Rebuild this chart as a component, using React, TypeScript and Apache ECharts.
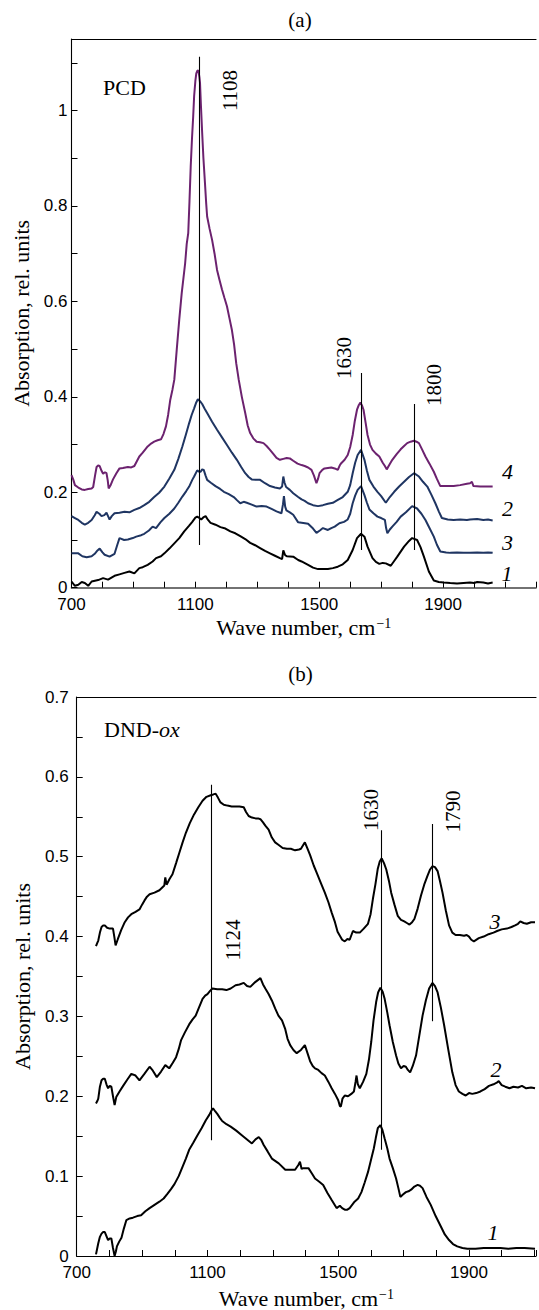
import React, { useEffect, useRef } from "react";
import * as echarts from "echarts";

// ---------- DATA ----------
// Panel (a): PCD, [wave number, absorption]
const pcd1: [number, number][] = [[700,0.013],[711,0.004],[722,0.006],[733,0.012],[743,0.010],[754,0.004],[765,0.013],[786,0.016],[802,0.020],[818,0.017],[839,0.025],[855,0.028],[871,0.031],[887,0.034],[903,0.030],[919,0.041],[930,0.043],[946,0.048],[962,0.055],[973,0.062],[989,0.066],[1000,0.072],[1016,0.082],[1032,0.093],[1048,0.104],[1064,0.118],[1080,0.130],[1090,0.138],[1100,0.147],[1106,0.149],[1113,0.146],[1119,0.143],[1127,0.148],[1133,0.150],[1141,0.142],[1149,0.136],[1165,0.132],[1181,0.127],[1197,0.124],[1213,0.118],[1229,0.114],[1245,0.108],[1261,0.102],[1277,0.094],[1293,0.089],[1309,0.083],[1325,0.077],[1341,0.072],[1357,0.067],[1373,0.062],[1380,0.060],[1384,0.078],[1390,0.068],[1395,0.066],[1416,0.065],[1432,0.058],[1443,0.055],[1464,0.048],[1480,0.042],[1496,0.039],[1512,0.039],[1528,0.039],[1544,0.041],[1560,0.044],[1576,0.049],[1592,0.058],[1608,0.079],[1622,0.104],[1635,0.113],[1646,0.107],[1656,0.086],[1672,0.062],[1683,0.054],[1694,0.050],[1705,0.052],[1715,0.051],[1731,0.046],[1742,0.056],[1752,0.065],[1774,0.086],[1790,0.098],[1800,0.104],[1816,0.100],[1827,0.085],[1838,0.065],[1854,0.034],[1870,0.015],[1886,0.012],[1902,0.011],[1923,0.010],[1945,0.009],[1966,0.010],[1987,0.011],[2000,0.010],[2010,0.012],[2030,0.011],[2045,0.009],[2060,0.011]];
const pcd3: [number, number][] = [[700,0.072],[722,0.072],[735,0.066],[749,0.064],[765,0.066],[775,0.071],[784,0.078],[791,0.082],[800,0.074],[807,0.069],[823,0.065],[839,0.071],[848,0.090],[855,0.104],[870,0.100],[882,0.101],[898,0.104],[909,0.107],[925,0.110],[935,0.113],[950,0.120],[962,0.128],[973,0.125],[987,0.137],[1000,0.146],[1016,0.155],[1032,0.166],[1045,0.178],[1058,0.191],[1070,0.202],[1080,0.212],[1090,0.226],[1096,0.233],[1106,0.246],[1112,0.243],[1117,0.243],[1122,0.248],[1127,0.247],[1133,0.235],[1138,0.226],[1150,0.220],[1165,0.213],[1180,0.207],[1192,0.201],[1208,0.196],[1224,0.190],[1235,0.183],[1245,0.177],[1256,0.180],[1266,0.178],[1282,0.174],[1298,0.170],[1314,0.171],[1330,0.170],[1346,0.165],[1362,0.160],[1378,0.156],[1383,0.175],[1386,0.192],[1390,0.170],[1394,0.162],[1405,0.158],[1416,0.153],[1432,0.137],[1443,0.136],[1454,0.135],[1464,0.134],[1480,0.124],[1491,0.115],[1502,0.120],[1512,0.125],[1528,0.121],[1539,0.125],[1550,0.128],[1565,0.135],[1580,0.138],[1592,0.143],[1600,0.155],[1608,0.177],[1616,0.193],[1624,0.205],[1635,0.213],[1646,0.194],[1654,0.178],[1662,0.164],[1675,0.156],[1688,0.149],[1700,0.146],[1712,0.142],[1716,0.125],[1720,0.114],[1728,0.122],[1736,0.128],[1750,0.138],[1763,0.149],[1780,0.158],[1800,0.171],[1816,0.166],[1830,0.155],[1843,0.142],[1856,0.125],[1870,0.107],[1880,0.090],[1891,0.076],[1910,0.074],[1923,0.073],[1945,0.074],[1966,0.073],[1987,0.073],[2010,0.074],[2030,0.073],[2045,0.074],[2060,0.073]];
const pcd2: [number, number][] = [[700,0.150],[711,0.146],[722,0.142],[733,0.136],[743,0.132],[754,0.136],[765,0.142],[775,0.152],[781,0.159],[790,0.155],[797,0.150],[806,0.152],[813,0.157],[818,0.150],[823,0.143],[830,0.150],[839,0.156],[855,0.157],[871,0.159],[887,0.158],[903,0.163],[919,0.167],[935,0.173],[951,0.180],[967,0.190],[983,0.199],[1000,0.212],[1016,0.229],[1032,0.247],[1045,0.270],[1058,0.296],[1069,0.320],[1080,0.345],[1088,0.362],[1096,0.376],[1102,0.387],[1108,0.395],[1115,0.391],[1122,0.385],[1130,0.375],[1138,0.366],[1154,0.348],[1170,0.331],[1186,0.315],[1202,0.299],[1218,0.283],[1234,0.268],[1248,0.253],[1261,0.240],[1272,0.232],[1282,0.227],[1296,0.226],[1309,0.226],[1325,0.219],[1341,0.213],[1357,0.210],[1373,0.208],[1380,0.212],[1384,0.233],[1388,0.220],[1393,0.211],[1405,0.205],[1416,0.198],[1432,0.190],[1443,0.185],[1453,0.182],[1464,0.177],[1480,0.173],[1496,0.171],[1512,0.173],[1528,0.176],[1544,0.178],[1560,0.184],[1576,0.190],[1592,0.201],[1600,0.215],[1608,0.240],[1616,0.262],[1624,0.278],[1635,0.289],[1646,0.268],[1654,0.245],[1662,0.226],[1675,0.212],[1688,0.201],[1700,0.192],[1715,0.178],[1728,0.190],[1742,0.201],[1758,0.212],[1774,0.222],[1790,0.232],[1806,0.240],[1822,0.233],[1835,0.222],[1849,0.212],[1862,0.195],[1875,0.177],[1886,0.160],[1896,0.146],[1915,0.143],[1934,0.142],[1955,0.143],[1977,0.142],[1987,0.143],[2010,0.144],[2030,0.142],[2045,0.143],[2060,0.141]];
const pcd4: [number, number][] = [[700,0.236],[706,0.226],[711,0.215],[722,0.210],[733,0.206],[743,0.205],[754,0.207],[765,0.208],[770,0.211],[776,0.235],[781,0.253],[786,0.256],[791,0.255],[797,0.245],[802,0.239],[808,0.242],[813,0.240],[817,0.225],[820,0.208],[827,0.216],[834,0.227],[845,0.240],[855,0.250],[866,0.251],[882,0.253],[893,0.252],[903,0.255],[911,0.265],[919,0.275],[930,0.283],[946,0.296],[957,0.302],[967,0.306],[978,0.309],[989,0.311],[997,0.322],[1005,0.338],[1012,0.362],[1019,0.394],[1026,0.415],[1032,0.436],[1040,0.500],[1048,0.562],[1056,0.618],[1067,0.680],[1072,0.720],[1077,0.743],[1081,0.810],[1085,0.883],[1089,0.940],[1093,0.988],[1096,1.030],[1100,1.062],[1103,1.078],[1107,1.084],[1110,1.083],[1113,1.070],[1115,1.058],[1118,1.010],[1122,0.953],[1126,0.900],[1131,0.848],[1135,0.805],[1138,0.778],[1146,0.752],[1154,0.729],[1162,0.700],[1170,0.666],[1178,0.645],[1186,0.625],[1194,0.607],[1202,0.590],[1210,0.565],[1218,0.540],[1225,0.510],[1232,0.470],[1240,0.436],[1250,0.400],[1261,0.366],[1269,0.340],[1277,0.324],[1287,0.313],[1298,0.306],[1309,0.305],[1320,0.303],[1330,0.297],[1341,0.289],[1351,0.281],[1362,0.272],[1373,0.268],[1384,0.270],[1395,0.272],[1405,0.271],[1416,0.266],[1430,0.260],[1443,0.257],[1453,0.255],[1464,0.252],[1475,0.247],[1483,0.235],[1491,0.219],[1496,0.228],[1501,0.240],[1510,0.247],[1517,0.250],[1528,0.251],[1539,0.252],[1550,0.250],[1560,0.247],[1566,0.256],[1571,0.261],[1582,0.268],[1592,0.278],[1600,0.295],[1608,0.320],[1615,0.350],[1622,0.373],[1628,0.383],[1633,0.388],[1638,0.382],[1643,0.373],[1650,0.345],[1656,0.320],[1664,0.300],[1672,0.289],[1683,0.281],[1694,0.275],[1705,0.262],[1712,0.255],[1718,0.248],[1727,0.258],[1736,0.268],[1750,0.280],[1763,0.290],[1774,0.297],[1784,0.303],[1795,0.306],[1806,0.308],[1814,0.306],[1822,0.303],[1832,0.290],[1843,0.275],[1856,0.260],[1870,0.243],[1880,0.228],[1891,0.213],[1912,0.213],[1934,0.213],[1955,0.215],[1977,0.218],[1987,0.219],[1993,0.222],[1998,0.213],[2020,0.212],[2040,0.212],[2060,0.212]];

// Panel (b): DND-ox
const dnd3: [number, number][] = [[759,0.388],[763,0.392],[766,0.395],[771,0.405],[776,0.412],[781,0.414],[786,0.414],[793,0.411],[801,0.410],[811,0.410],[815,0.400],[819,0.389],[826,0.397],[836,0.408],[847,0.418],[857,0.424],[867,0.428],[880,0.431],[892,0.434],[900,0.440],[907,0.445],[915,0.450],[923,0.453],[938,0.455],[953,0.458],[968,0.464],[971,0.474],[975,0.465],[984,0.472],[993,0.478],[1004,0.492],[1014,0.505],[1024,0.518],[1034,0.530],[1046,0.542],[1059,0.553],[1072,0.562],[1085,0.570],[1097,0.575],[1110,0.577],[1118,0.578],[1125,0.579],[1132,0.574],[1140,0.568],[1150,0.565],[1161,0.564],[1174,0.563],[1186,0.563],[1198,0.563],[1211,0.562],[1218,0.556],[1226,0.551],[1236,0.549],[1247,0.548],[1255,0.548],[1262,0.547],[1270,0.543],[1277,0.539],[1287,0.534],[1297,0.524],[1307,0.518],[1317,0.515],[1330,0.511],[1343,0.510],[1355,0.510],[1368,0.508],[1380,0.509],[1386,0.510],[1392,0.514],[1398,0.518],[1406,0.510],[1414,0.502],[1425,0.489],[1434,0.480],[1447,0.467],[1459,0.455],[1470,0.443],[1480,0.430],[1490,0.418],[1498,0.406],[1505,0.401],[1512,0.396],[1520,0.394],[1528,0.397],[1535,0.396],[1545,0.407],[1555,0.405],[1566,0.405],[1578,0.410],[1591,0.416],[1599,0.428],[1606,0.447],[1614,0.466],[1621,0.485],[1627,0.494],[1633,0.498],[1640,0.492],[1647,0.484],[1655,0.470],[1662,0.455],[1672,0.440],[1682,0.426],[1692,0.421],[1702,0.419],[1710,0.417],[1718,0.415],[1726,0.418],[1733,0.422],[1743,0.435],[1753,0.451],[1763,0.465],[1773,0.476],[1781,0.484],[1788,0.488],[1796,0.487],[1804,0.482],[1811,0.470],[1819,0.455],[1829,0.433],[1839,0.414],[1849,0.405],[1859,0.402],[1872,0.402],[1885,0.401],[1893,0.402],[1900,0.400],[1907,0.396],[1915,0.394],[1930,0.398],[1945,0.400],[1960,0.403],[1975,0.405],[1986,0.407],[2000,0.409],[2016,0.410],[2030,0.412],[2041,0.414],[2050,0.416],[2057,0.419],[2067,0.417],[2077,0.416],[2090,0.418],[2102,0.418]];
const dnd2: [number, number][] = [[759,0.191],[763,0.194],[766,0.197],[771,0.212],[776,0.220],[781,0.222],[786,0.222],[791,0.215],[796,0.210],[801,0.213],[806,0.212],[811,0.200],[816,0.189],[821,0.199],[831,0.206],[842,0.213],[855,0.221],[867,0.228],[880,0.226],[892,0.220],[907,0.228],[923,0.237],[933,0.232],[945,0.224],[958,0.231],[971,0.239],[983,0.235],[994,0.242],[1004,0.249],[1012,0.259],[1019,0.270],[1031,0.280],[1044,0.290],[1054,0.296],[1064,0.301],[1073,0.310],[1085,0.322],[1093,0.326],[1100,0.328],[1108,0.332],[1115,0.335],[1130,0.334],[1145,0.334],[1158,0.333],[1171,0.335],[1186,0.339],[1198,0.340],[1211,0.342],[1221,0.338],[1231,0.337],[1246,0.343],[1262,0.348],[1270,0.340],[1277,0.335],[1287,0.328],[1297,0.320],[1307,0.310],[1317,0.301],[1328,0.295],[1338,0.284],[1345,0.272],[1353,0.264],[1363,0.258],[1373,0.254],[1386,0.258],[1398,0.264],[1406,0.254],[1414,0.244],[1422,0.238],[1429,0.235],[1439,0.233],[1449,0.229],[1459,0.226],[1470,0.218],[1480,0.210],[1490,0.203],[1500,0.195],[1505,0.188],[1508,0.187],[1513,0.197],[1520,0.201],[1530,0.200],[1540,0.203],[1548,0.206],[1553,0.218],[1556,0.226],[1560,0.215],[1566,0.210],[1576,0.218],[1586,0.228],[1594,0.246],[1601,0.268],[1608,0.295],[1616,0.318],[1622,0.330],[1629,0.336],[1636,0.331],[1642,0.322],[1650,0.305],[1657,0.289],[1667,0.268],[1677,0.251],[1684,0.241],[1692,0.235],[1700,0.238],[1707,0.237],[1713,0.233],[1720,0.230],[1728,0.238],[1738,0.251],[1748,0.276],[1758,0.301],[1768,0.320],[1778,0.335],[1788,0.342],[1796,0.338],[1804,0.330],[1814,0.311],[1824,0.289],[1836,0.260],[1849,0.230],[1859,0.214],[1869,0.206],[1880,0.203],[1890,0.201],[1900,0.204],[1910,0.203],[1922,0.204],[1935,0.206],[1948,0.209],[1961,0.213],[1975,0.215],[1985,0.217],[1991,0.219],[2000,0.214],[2011,0.212],[2024,0.210],[2036,0.212],[2050,0.211],[2062,0.213],[2075,0.210],[2090,0.211],[2102,0.210]];
const dnd1: [number, number][] = [[759,0.002],[763,0.010],[766,0.016],[771,0.024],[776,0.028],[781,0.030],[786,0.030],[791,0.025],[796,0.020],[801,0.022],[806,0.022],[811,0.010],[816,0.000],[820,0.006],[823,0.012],[830,0.018],[837,0.023],[844,0.034],[852,0.045],[862,0.047],[872,0.048],[885,0.050],[897,0.051],[910,0.056],[923,0.060],[938,0.064],[953,0.068],[966,0.072],[978,0.078],[989,0.084],[999,0.090],[1012,0.100],[1024,0.112],[1034,0.122],[1044,0.133],[1057,0.142],[1069,0.151],[1082,0.160],[1095,0.170],[1106,0.177],[1112,0.182],[1117,0.185],[1124,0.181],[1130,0.178],[1138,0.173],[1145,0.169],[1158,0.165],[1171,0.162],[1188,0.157],[1206,0.151],[1221,0.146],[1236,0.141],[1247,0.146],[1257,0.149],[1265,0.145],[1272,0.139],[1284,0.131],[1297,0.122],[1318,0.116],[1338,0.108],[1348,0.108],[1368,0.108],[1378,0.114],[1383,0.118],[1388,0.109],[1393,0.110],[1409,0.110],[1420,0.103],[1429,0.097],[1442,0.093],[1454,0.089],[1467,0.079],[1480,0.070],[1495,0.060],[1505,0.063],[1512,0.060],[1520,0.058],[1528,0.058],[1535,0.060],[1550,0.068],[1561,0.072],[1571,0.080],[1581,0.092],[1591,0.105],[1600,0.120],[1609,0.135],[1615,0.148],[1621,0.160],[1629,0.164],[1635,0.158],[1642,0.147],[1650,0.135],[1657,0.122],[1667,0.110],[1677,0.097],[1684,0.085],[1690,0.074],[1698,0.077],[1707,0.080],[1715,0.081],[1723,0.083],[1733,0.087],[1743,0.089],[1750,0.088],[1758,0.085],[1770,0.074],[1783,0.064],[1798,0.050],[1814,0.037],[1826,0.027],[1839,0.020],[1851,0.015],[1864,0.012],[1880,0.010],[1895,0.009],[1920,0.009],[1945,0.010],[1970,0.010],[1996,0.010],[2020,0.009],[2045,0.010],[2070,0.010],[2102,0.009]];

// Peak marker lines: [wave number, from, to]
const peakLinesA: [number, number, number][] = [[1111, 0.0895, 1.113], [1636, 0.079, 0.45], [1807, 0.079, 0.385]];
const peakLinesB: [number, number, number][] = [[1112, 0.145, 0.59], [1633, 0.133, 0.533], [1788, 0.294, 0.541]];

const xTickLabels = [700, 1100, 1500, 1900];

// ---------- STYLE ----------
const SERIF = '"Liberation Serif", "Times New Roman", serif';
const SANS = '"Liberation Sans", Arial, sans-serif';
const PURPLE = "#6c226f";
const NAVY = "#1f3562";
const BLACK = "#000000";

function makeMarkLine(lines: [number, number, number][]) {
  return {
    silent: true,
    symbol: ["none", "none"],
    label: { show: false },
    lineStyle: { color: "#000", width: 1.1, type: "solid" },
    emphasis: { disabled: true },
    data: lines.map(([x, y1, y2]) => [{ coord: [x, y1] }, { coord: [x, y2] }]),
  };
}

function xBottom(gridIndex: number, max: number, axisColor: string, axisWidth: number, nameGap: number) {
  return {
    type: "value",
    gridIndex,
    position: "bottom",
    min: 700,
    max,
    interval: 100,
    axisLine: { show: true, onZero: false, lineStyle: { color: axisColor, width: axisWidth } },
    axisTick: { show: true, inside: true, length: 6, lineStyle: { color: "#000", width: 1 } },
    splitLine: { show: false },
    axisLabel: {
      color: "#000",
      fontFamily: SANS,
      fontSize: 17,
      margin: 8,
      formatter: (v: number) => (xTickLabels.indexOf(Math.round(v)) >= 0 && Math.abs(v - Math.round(v)) < 1e-6 ? String(Math.round(v)) : ""),
    },
    name: "Wave number, cm{sup|\u22121}",
    nameLocation: "middle",
    nameGap,
    nameTextStyle: {
      color: "#000",
      fontFamily: SERIF,
      fontSize: 22,
      rich: {
        sup: { fontFamily: SERIF, fontSize: 14, color: "#000", verticalAlign: "top", padding: [0, 0, 8, 1] },
      },
    },
  };
}

function xTop(gridIndex: number, max: number) {
  return {
    type: "value",
    gridIndex,
    position: "top",
    min: 700,
    max,
    axisLine: { show: true, onZero: false, lineStyle: { color: "#000", width: 1.2 } },
    axisTick: { show: false },
    axisLabel: { show: false },
    splitLine: { show: false },
  };
}

function yAxis(gridIndex: number, max: number, interval: number, labelStep: number, margin: number, nameGap: number) {
  return {
    type: "value",
    gridIndex,
    min: 0,
    max,
    interval,
    axisLine: { show: true, onZero: false, lineStyle: { color: "#000", width: 1.1 } },
    axisTick: { show: true, inside: true, length: 6, lineStyle: { color: "#000", width: 1 } },
    splitLine: { show: false },
    axisLabel: {
      color: "#000",
      fontFamily: SANS,
      fontSize: 17,
      margin,
      formatter: (v: number) => {
        const k = v / labelStep;
        if (Math.abs(k - Math.round(k)) > 1e-6) return "";
        return String(Math.round(v * 100) / 100);
      },
    },
    name: "Absorption, rel. units",
    nameLocation: "middle",
    nameGap,
    nameTextStyle: { color: "#000", fontFamily: SERIF, fontSize: 22 },
  };
}

function lineSeries(data: [number, number][], color: string, axisIdx: number, yIdx: number, extra: any = {}) {
  return {
    type: "line",
    data,
    xAxisIndex: axisIdx,
    yAxisIndex: yIdx,
    showSymbol: false,
    symbol: "none",
    smooth: false,
    lineStyle: { color, width: 2 },
    itemStyle: { color },
    emphasis: { disabled: true },
    ...extra,
  };
}

function txt(text: string, x: number, y: number, size: number, opts: any = {}) {
  return {
    type: "text",
    x,
    y,
    rotation: opts.rotation || 0,
    silent: true,
    style: {
      text,
      fill: "#000",
      fontFamily: SERIF,
      fontSize: size,
      fontStyle: opts.italic ? "italic" : "normal",
      align: opts.align || "center",
      verticalAlign: "middle",
      textAlign: opts.align || "center",
      textVerticalAlign: "middle",
      rich: opts.rich,
    },
  };
}

export default function App() {
  const ref = useRef<HTMLDivElement>(null);

  useEffect(() => {
    if (!ref.current) return;
    const chart = echarts.init(ref.current, undefined, { renderer: "svg" });
    const R = Math.PI / 2;
    chart.setOption({
      animation: false,
      backgroundColor: "#fff",
      grid: [
        { left: 71.5, top: 39, width: 468, height: 548.7, containLabel: false },
        { left: 76.7, top: 697, width: 462.5, height: 561, containLabel: false },
      ],
      xAxis: [xBottom(0, 2200, "#444", 1.6, 29), xTop(0, 2200), xBottom(1, 2105, "#000", 1.2, 31), xTop(1, 2105)],
      yAxis: [yAxis(0, 1.15, 0.1, 0.2, 4, 38), yAxis(1, 0.7, 0.05, 0.1, 8, 43)],
      series: [
        lineSeries(pcd1, BLACK, 0, 0, { markLine: makeMarkLine(peakLinesA) }),
        lineSeries(pcd3, NAVY, 0, 0),
        lineSeries(pcd2, NAVY, 0, 0),
        lineSeries(pcd4, PURPLE, 0, 0),
        lineSeries(dnd1, BLACK, 2, 1, { markLine: makeMarkLine(peakLinesB) }),
        lineSeries(dnd2, BLACK, 2, 1),
        lineSeries(dnd3, BLACK, 2, 1),
      ],
      graphic: [
        txt("(a)", 300, 20, 21),
        txt("(b)", 300.5, 674, 21),
        txt("PCD", 103, 87, 22, { align: "left" }),
        txt("DND-{i|ox}", 104, 729.5, 22, {
          align: "left",
          rich: { i: { fontFamily: SERIF, fontSize: 22, fontStyle: "italic", fill: "#000", color: "#000" } },
        }),
        txt("1108", 230, 90.5, 21, { rotation: R }),
        txt("1630", 344, 358, 21, { rotation: R }),
        txt("1800", 434, 385, 21, { rotation: R }),
        txt("1124", 232.5, 940, 21, { rotation: R }),
        txt("1630", 370.5, 810, 21, { rotation: R }),
        txt("1790", 453, 811.5, 21, { rotation: R }),
        txt("4", 507.5, 471.7, 22, { italic: true }),
        txt("2", 507.5, 508, 22, { italic: true }),
        txt("3", 507.5, 542.5, 22, { italic: true }),
        txt("1", 507, 573.3, 22, { italic: true }),
        txt("3", 495, 921, 22, { italic: true }),
        txt("2", 496, 1069, 22, { italic: true }),
        txt("1", 493, 1232, 22, { italic: true }),
      ],
    });
    return () => chart.dispose();
  }, []);

  return (
    <div
      ref={ref}
      style={{ position: "absolute", left: 0, top: 0, width: 539, height: 1310, background: "#fff" }}
    />
  );
}
